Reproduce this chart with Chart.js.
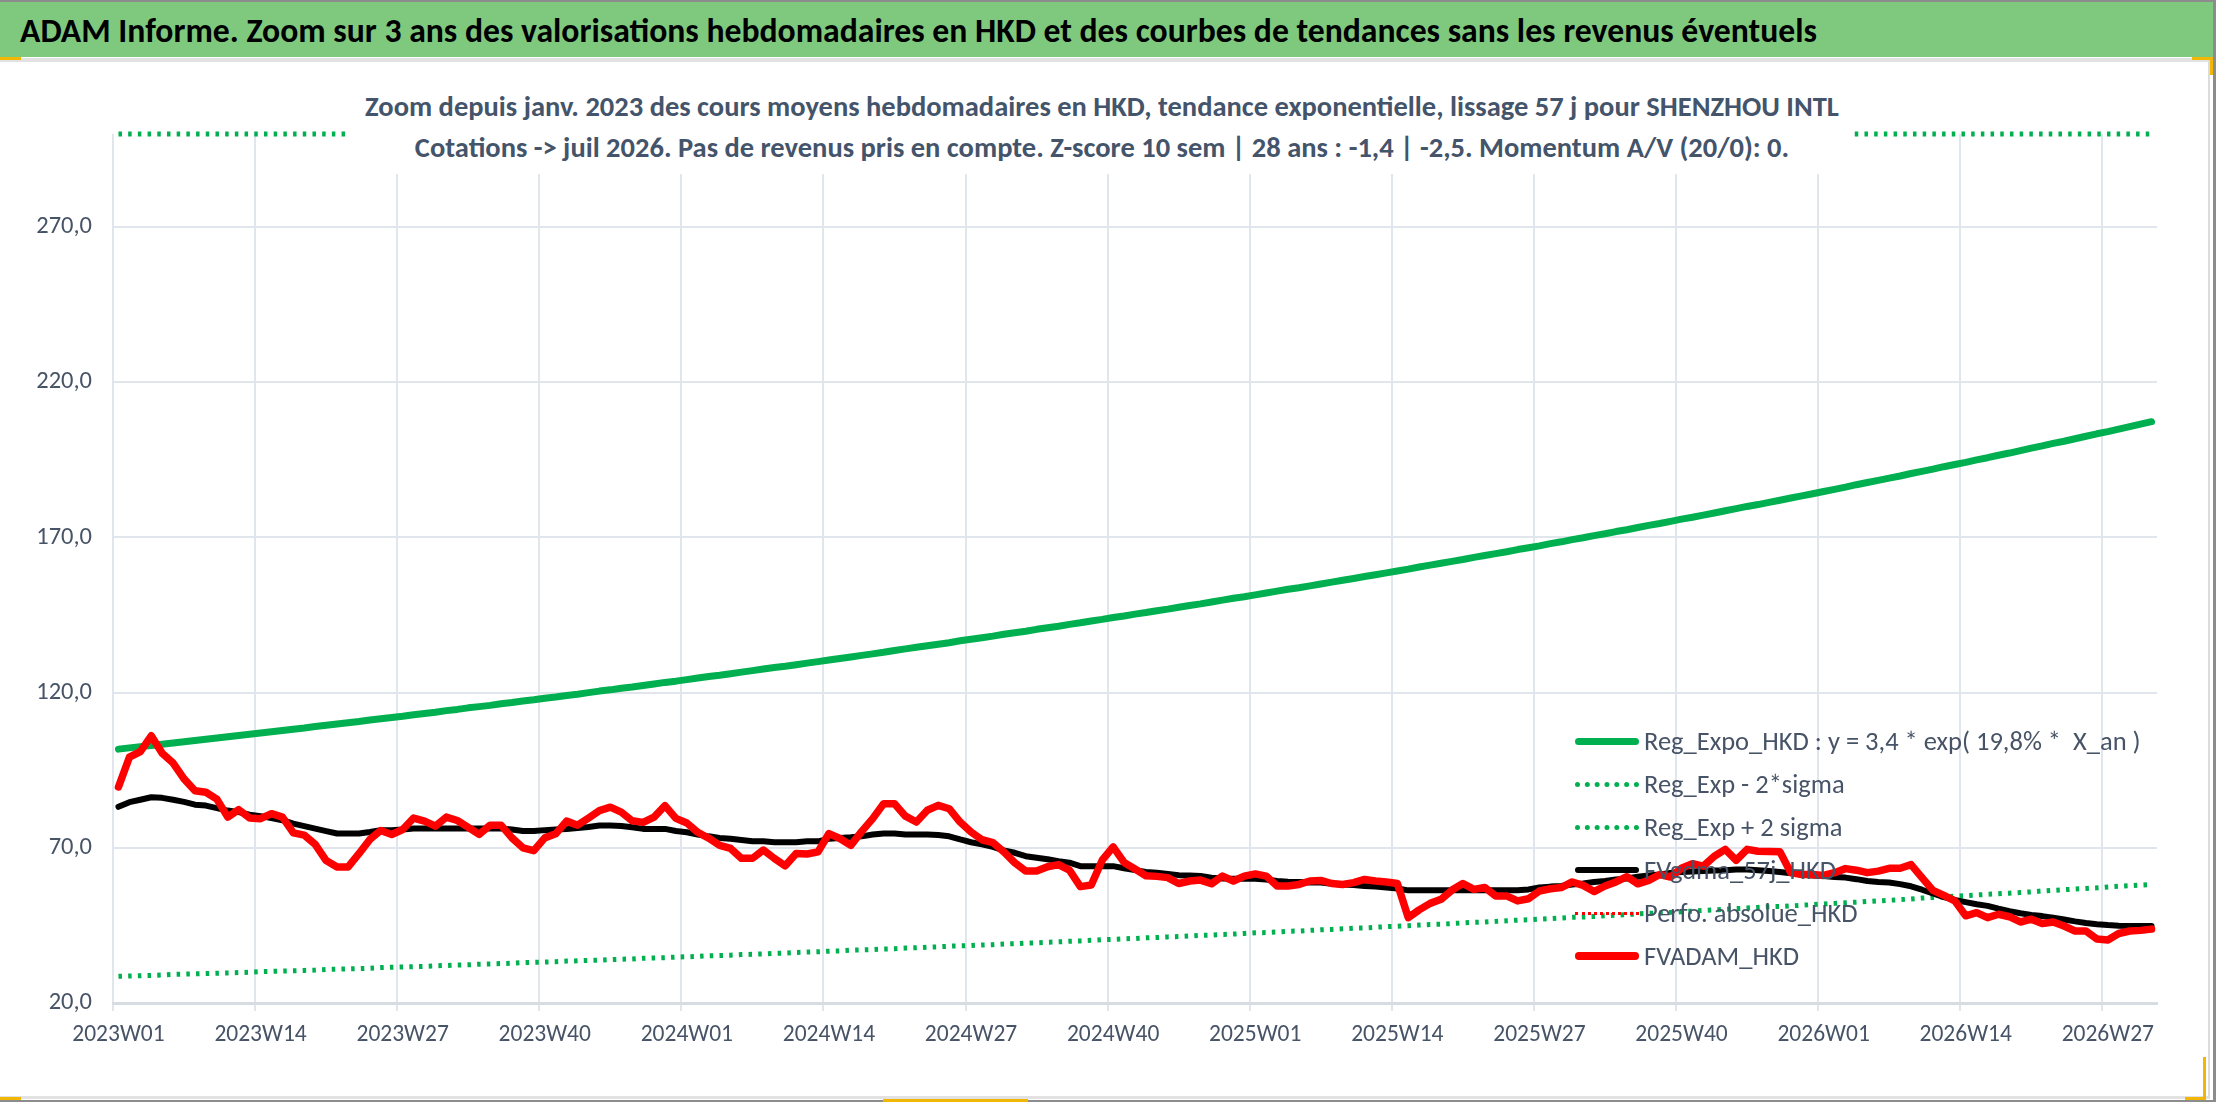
<!DOCTYPE html>
<html lang="fr">
<head>
<meta charset="utf-8">
<title>SHENZHOU INTL - ADAM</title>
<script src="https://cdn.jsdelivr.net/npm/chart.js@4.4.1/dist/chart.umd.min.js"></script>
<style>
  html, body { margin: 0; padding: 0; background: #ffffff; }
  #frame { position: relative; width: 2216px; height: 1102px; overflow: hidden; font-family: Carlito, Lato, sans-serif; }
  #topline { position: absolute; left: 0; top: 0; width: 2216px; height: 2px; background: #8c8c8c; }
  #rightline { position: absolute; right: 0; top: 0; width: 3px; height: 1102px; background: #8c8c8c; }
  #bottomline { position: absolute; left: 0; bottom: 0; width: 2216px; height: 2px; background: #8c8c8c; }
  #titlebar { position: absolute; left: 0; top: 2px; width: 2213px; height: 55px; background: #7fc97f;
              font-weight: 700; font-size: 33.7px; line-height: 57px; color: #000; padding-left: 20px; box-sizing: border-box; white-space: nowrap; }
  #panel { position: absolute; left: 0; top: 58px; width: 2210px; height: 1041px; box-sizing: border-box;
           border-top: 4px solid #e2e2e2; border-right: 2px solid #dcdcdc; border-bottom: 3px solid #e2e2e2; background: #fff; }
  canvas#chart { position: absolute; left: 0; top: 0; }
  #subtitle { position: absolute; left: 350px; top: 86px; width: 1504px; height: 88px; background: #fff;
              color: #44546a; font-weight: 700; font-size: 28.5px; line-height: 41px; text-align: center; white-space: nowrap; }
  #legend { position: absolute; left: 1575px; top: 720px; font-size: 26.5px; color: #475366; }
  .row { position: absolute; left: 0; height: 43px; width: 640px; }
  .sample { position: absolute; left: 0; width: 64px; }
  .txt { position: absolute; left: 69px; top: 0; line-height: 43px; white-space: pre; }
  .handle { position: absolute; background: #f2b705; }
</style>
</head>
<body>
<div id="frame">
  <div id="panel"></div>
  <canvas id="chart" width="2216" height="1102"></canvas>
  <div id="topline"></div>
  <div id="titlebar">ADAM Informe. Zoom sur 3 ans des valorisations hebdomadaires en HKD et des courbes de tendances sans les revenus éventuels</div>
  <div id="rightline"></div>
  <div id="bottomline"></div>
  <div id="subtitle">
    <div>Zoom depuis janv. 2023 des cours moyens hebdomadaires en HKD, tendance exponentielle, lissage 57 j pour SHENZHOU INTL</div>
    <div>Cotations -&gt; juil 2026. Pas de revenus pris en compte. Z-score 10 sem | 28 ans : -1,4 | -2,5. Momentum A/V (20/0): 0.</div>
  </div>
  <div id="legend"></div>
  <div class="handle" style="left:0;top:57px;width:21px;height:3px"></div>
  <div class="handle" style="left:2192px;top:57px;width:21px;height:3px"></div>
  <div class="handle" style="left:2210px;top:57px;width:3px;height:18px"></div>
  <div class="handle" style="left:2203px;top:1057px;width:3px;height:42px"></div>
  <div class="handle" style="left:2185px;top:1097px;width:21px;height:3px"></div>
  <div class="handle" style="left:0;top:1097px;width:21px;height:3px"></div>
  <div class="handle" style="left:883px;top:1099px;width:145px;height:3px"></div>
</div>

<script>
// Semaines ISO affichées : 2023W01 -> 2026W31
const weeksPerYear = [[2023, 52], [2024, 52], [2025, 52], [2026, 31]];
const weekLabels = [];
weeksPerYear.forEach(([year, n]) => {
  for (let w = 1; w <= n; w++) weekLabels.push(year + 'W' + String(w).padStart(2, '0'));
});

const yTickValues = [20, 70, 120, 170, 220, 270];

// Reg_Expo_HKD : y = 3,4 * exp(19,8% * X_an)
const regExpo = [
  101.8,102.2,102.6,103.0,103.4,103.8,104.2,104.6,105.0,105.4,
  105.8,106.2,106.6,107.0,107.4,107.8,108.2,108.6,109.1,109.5,
  109.9,110.3,110.7,111.2,111.6,112.0,112.4,112.9,113.3,113.7,
  114.2,114.6,115.1,115.5,115.9,116.4,116.8,117.3,117.7,118.2,
  118.6,119.1,119.5,120.0,120.5,120.9,121.4,121.8,122.3,122.8,
  123.3,123.7,124.2,124.7,125.2,125.6,126.1,126.6,127.1,127.6,
  128.1,128.5,129.0,129.5,130.0,130.5,131.0,131.5,132.0,132.5,
  133.0,133.6,134.1,134.6,135.1,135.6,136.1,136.7,137.2,137.7,
  138.2,138.8,139.3,139.8,140.4,140.9,141.4,142.0,142.5,143.1,
  143.6,144.2,144.7,145.3,145.8,146.4,146.9,147.5,148.1,148.6,
  149.2,149.8,150.4,150.9,151.5,152.1,152.7,153.3,153.8,154.4,
  155.0,155.6,156.2,156.8,157.4,158.0,158.6,159.2,159.8,160.5,
  161.1,161.7,162.3,162.9,163.6,164.2,164.8,165.4,166.1,166.7,
  167.3,168.0,168.6,169.3,169.9,170.6,171.2,171.9,172.5,173.2,
  173.9,174.5,175.2,175.9,176.5,177.2,177.9,178.6,179.3,180.0,
  180.6,181.3,182.0,182.7,183.4,184.1,184.8,185.5,186.2,187.0,
  187.7,188.4,189.1,189.8,190.6,191.3,192.0,192.8,193.5,194.2,
  195.0,195.7,196.5,197.2,198.0,198.8,199.5,200.3,201.0,201.8,
  202.6,203.4,204.1,204.9,205.7,206.5,207.3
];

// Reg_Exp - 2*sigma
const regMinus2s = [
  28.6,28.7,28.8,28.9,29.0,29.2,29.3,29.4,29.5,29.6,
  29.7,29.8,29.9,30.1,30.2,30.3,30.4,30.5,30.6,30.8,
  30.9,31.0,31.1,31.2,31.4,31.5,31.6,31.7,31.8,32.0,
  32.1,32.2,32.3,32.5,32.6,32.7,32.8,33.0,33.1,33.2,
  33.3,33.5,33.6,33.7,33.8,34.0,34.1,34.2,34.4,34.5,
  34.6,34.8,34.9,35.0,35.2,35.3,35.4,35.6,35.7,35.8,
  36.0,36.1,36.3,36.4,36.5,36.7,36.8,37.0,37.1,37.2,
  37.4,37.5,37.7,37.8,38.0,38.1,38.3,38.4,38.5,38.7,
  38.8,39.0,39.1,39.3,39.4,39.6,39.7,39.9,40.0,40.2,
  40.4,40.5,40.7,40.8,41.0,41.1,41.3,41.4,41.6,41.8,
  41.9,42.1,42.2,42.4,42.6,42.7,42.9,43.1,43.2,43.4,
  43.6,43.7,43.9,44.1,44.2,44.4,44.6,44.7,44.9,45.1,
  45.3,45.4,45.6,45.8,46.0,46.1,46.3,46.5,46.7,46.8,
  47.0,47.2,47.4,47.6,47.7,47.9,48.1,48.3,48.5,48.7,
  48.9,49.0,49.2,49.4,49.6,49.8,50.0,50.2,50.4,50.6,
  50.8,51.0,51.1,51.3,51.5,51.7,51.9,52.1,52.3,52.5,
  52.7,52.9,53.1,53.3,53.5,53.8,54.0,54.2,54.4,54.6,
  54.8,55.0,55.2,55.4,55.6,55.8,56.1,56.3,56.5,56.7,
  56.9,57.1,57.4,57.6,57.8,58.0,58.2
];

// Reg_Exp + 2 sigma (au-dessus du max de l'axe, collé au bord haut)
const regPlus2s = [
  362,364,365,366,368,369,371,372,374,375,
  376,378,379,381,382,384,385,387,388,390,
  391,393,394,396,397,399,400,402,403,405,
  406,408,409,411,413,414,416,417,419,421,
  422,424,425,427,429,430,432,434,435,437,
  439,440,442,444,445,447,449,451,452,454,
  456,457,459,461,463,464,466,468,470,472,
  473,475,477,479,481,483,484,486,488,490,
  492,494,496,498,499,501,503,505,507,509,
  511,513,515,517,519,521,523,525,527,529,
  531,533,535,537,539,541,543,545,547,550,
  552,554,556,558,560,562,564,567,569,571,
  573,575,578,580,582,584,586,589,591,593,
  596,598,600,602,605,607,609,612,614,616,
  619,621,623,626,628,631,633,636,638,640,
  643,645,648,650,653,655,658,660,663,665,
  668,670,673,676,678,681,683,686,689,691,
  694,697,699,702,705,707,710,713,715,718,
  721,724,726,729,732,735,738
];

// FVgdma_57j_HKD
const fvGdma57 = [
  83.2,84.7,85.5,86.3,86.1,85.5,84.8,83.9,83.6,82.8,
  82.0,81.5,80.7,80.2,79.6,78.9,77.8,77.0,76.2,75.4,
  74.6,74.6,74.6,75.1,75.7,75.7,75.9,76.2,76.2,76.2,
  76.2,76.2,76.2,76.2,76.2,76.2,75.9,75.4,75.4,75.7,
  75.9,76.1,76.4,76.7,77.2,77.2,77.0,76.6,76.1,76.1,
  76.1,75.4,75.0,74.3,73.7,73.2,72.9,72.5,72.1,72.1,
  71.8,71.8,71.8,72.1,72.1,72.9,73.2,73.4,73.7,74.3,
  74.6,74.6,74.3,74.3,74.3,74.1,73.7,72.7,71.8,71.1,
  70.3,69.2,68.4,67.3,66.8,66.3,65.7,65.2,64.1,64.1,
  64.1,64.1,63.4,62.8,62.2,62.0,61.6,61.2,61.1,60.9,
  60.4,60.1,60.0,60.0,60.0,59.8,59.3,59.1,59.0,58.8,
  58.8,58.4,58.2,58.0,57.7,57.5,57.2,56.9,56.3,56.3,
  56.3,56.3,56.3,56.3,56.3,56.3,56.3,56.3,56.3,56.6,
  57.2,57.5,57.7,58.2,58.5,59.0,59.3,59.8,60.1,60.7,
  61.1,61.4,61.9,62.2,62.4,62.5,62.7,62.8,63.0,63.0,
  62.8,62.5,62.2,61.8,61.4,61.1,60.9,60.6,60.4,59.9,
  59.3,59.0,58.8,58.3,57.6,56.5,55.3,54.1,53.2,52.5,
  51.8,51.3,50.4,49.6,48.9,48.4,48.0,47.5,46.9,46.3,
  45.8,45.4,45.1,44.9,44.8,44.8,44.8
];

// Perfo. absolue_HKD (aucune valeur visible sur la fenêtre)
const perfoAbsolue = [];

// FVADAM_HKD
const fvAdam = [
  89.6,99.2,101.0,106.1,100.5,97.3,92.2,88.4,87.9,85.7,
  79.9,82.3,79.6,79.4,81.0,79.9,74.8,74.1,71.1,65.9,
  63.8,63.8,68.1,72.7,75.6,74.3,75.9,79.6,78.6,77.0,
  79.9,78.8,76.6,74.3,77.3,77.3,73.2,70.0,69.1,73.2,
  74.5,78.6,77.3,79.6,82.0,83.1,81.5,78.7,78.2,79.9,
  83.6,79.5,78.0,75.0,73.1,70.8,69.8,66.6,66.6,69.3,
  66.6,64.2,68.2,68.0,68.7,74.6,73.0,70.8,75.3,79.4,
  84.2,84.2,80.2,78.3,82.1,83.7,82.6,78.3,75.1,72.6,
  71.7,68.7,65.2,62.5,62.5,63.9,64.6,62.8,57.5,58.0,
  66.0,70.3,65.3,63.2,61.0,60.8,60.4,58.5,59.3,59.6,
  58.4,60.9,59.3,60.9,61.6,60.9,57.7,57.7,58.2,59.3,
  59.5,58.5,58.2,58.8,59.8,59.3,59.0,58.5,47.5,50.0,
  52.1,53.4,56.4,58.5,56.6,57.2,54.5,54.5,52.9,53.6,
  56.1,56.8,57.2,59.0,57.9,55.9,57.7,59.0,60.7,58.4,
  59.5,61.4,60.6,63.4,64.9,64.1,67.3,69.5,66.0,69.5,
  68.9,68.8,68.7,62.0,61.4,61.4,61.1,62.0,63.3,62.8,
  62.0,62.5,63.4,63.4,64.6,60.4,56.3,54.7,52.9,48.1,
  49.1,47.5,48.6,47.8,46.1,47.0,45.6,46.1,44.8,43.2,
  43.2,40.6,40.3,42.4,43.2,43.4,43.8
];

const GREEN = '#00b050';
const RED = '#ff0000';
const GRID = '#e1e5ec';
const TEXT = '#475366';
const FONT = 'Carlito, Lato, sans-serif';

// Comme Excel : les valeurs hors bornes restent collées au bord de la zone de tracé
const clampToArea = {
  id: 'clampToArea',
  afterDatasetsUpdate(chart) {
    const { top, bottom } = chart.chartArea;
    chart.data.datasets.forEach((ds, i) => {
      if (!ds.clampToArea) return;
      chart.getDatasetMeta(i).data.forEach(pt => {
        pt.y = Math.min(Math.max(pt.y, top), bottom);
      });
    });
  }
};

const datasets = [
  { label: 'Reg_Expo_HKD : y = 3,4 * exp( 19,8% *  X_an )', data: regExpo,
    borderColor: GREEN, borderWidth: 7, order: 3 },
  { label: 'Reg_Exp - 2*sigma', data: regMinus2s,
    borderColor: GREEN, borderWidth: 5, borderDash: [3.5, 6.2], borderCapStyle: 'butt', order: 4 },
  { label: 'Reg_Exp + 2 sigma', data: regPlus2s, clampToArea: true, clip: false,
    borderColor: GREEN, borderWidth: 5, borderDash: [3.5, 6.2], borderCapStyle: 'butt', order: 5 },
  { label: 'FVgdma_57j_HKD', data: fvGdma57,
    borderColor: '#000000', borderWidth: 6, order: 1 },
  { label: 'Perfo. absolue_HKD', data: perfoAbsolue,
    borderColor: RED, borderWidth: 3, borderDash: [2, 4], order: 2 },
  { label: 'FVADAM_HKD', data: fvAdam,
    borderColor: RED, borderWidth: 7.5, order: 0 }
];

const chart = new Chart(document.getElementById('chart').getContext('2d'), {
  type: 'line',
  data: { labels: weekLabels, datasets: datasets },
  options: {
    responsive: false,
    animation: false,
    layout: { padding: { top: 134, right: 59, bottom: 0, left: 0 } },
    elements: {
      point: { radius: 0 },
      line: { tension: 0, borderJoinStyle: 'round', borderCapStyle: 'round', fill: false }
    },
    plugins: {
      legend: { display: false },
      title: { display: false },
      tooltip: { enabled: false }
    },
    scales: {
      x: {
        offset: true,
        grid: {
          offset: true,
          lineWidth: 2,
          tickLength: 8,
          color: ctx => ctx.index % 13 === 0 ? GRID : 'rgba(0,0,0,0)',
          tickColor: ctx => ctx.index % 13 === 0 ? GRID : 'rgba(0,0,0,0)'
        },
        border: { display: true, color: '#d7dbe2', width: 3 },
        ticks: {
          autoSkip: false,
          maxRotation: 0,
          padding: 10,
          color: TEXT,
          font: { family: FONT, size: 23.5 },
          callback: (v, i) => i % 13 === 0 ? weekLabels[i] : ''
        },
        afterFit: scale => { scale.height = 99; }
      },
      y: {
        min: 20,
        max: 300,
        afterBuildTicks: scale => { scale.ticks = yTickValues.map(v => ({ value: v })); },
        grid: { color: GRID, lineWidth: 2, drawTicks: false },
        border: { display: false },
        ticks: {
          padding: 21,
          color: TEXT,
          font: { family: FONT, size: 24.5 },
          callback: v => v.toFixed(1).replace('.', ',')
        },
        afterFit: scale => { scale.width = 113; }
      }
    }
  },
  plugins: [clampToArea]
});

// Légende façon Excel, posée dans la zone de tracé
const legend = document.getElementById('legend');
chart.data.datasets.forEach((ds, i) => {
  const row = document.createElement('div');
  row.className = 'row';
  row.style.top = (i * 43) + 'px';
  const sample = document.createElement('div');
  sample.className = 'sample';
  sample.style.top = (21 - ds.borderWidth / 2) + 'px';
  if (ds.borderDash) {
    sample.style.borderTop = ds.borderWidth + 'px dotted ' + ds.borderColor;
  } else {
    sample.style.height = ds.borderWidth + 'px';
    sample.style.background = ds.borderColor;
    sample.style.borderRadius = (ds.borderWidth / 2) + 'px';
  }
  const txt = document.createElement('div');
  txt.className = 'txt';
  txt.textContent = ds.label;
  row.appendChild(sample);
  row.appendChild(txt);
  legend.appendChild(row);
});
</script>
</body>
</html>
